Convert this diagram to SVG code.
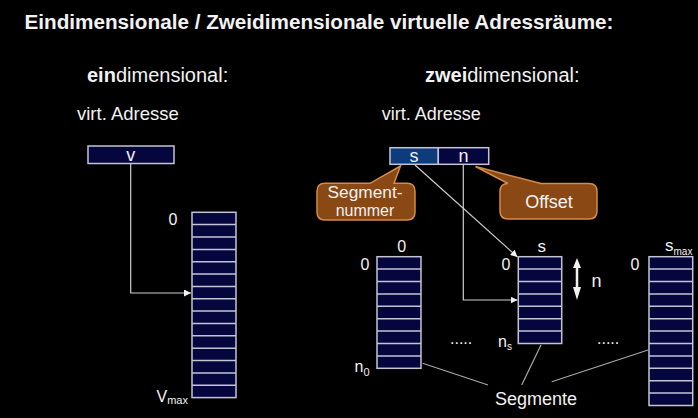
<svg xmlns="http://www.w3.org/2000/svg" width="698" height="418" viewBox="0 0 698 418">
<style>
.t{font-family:"Liberation Sans",Arial,sans-serif;fill:#f2f2f2}
.stk{fill:#06063e;stroke:#c4c4d4;stroke-width:1.5}
.sep{stroke:#c4c4d4;stroke-width:1.5;fill:none}
.con{stroke:#cfcfcf;stroke-width:1.2;fill:none}
.gl{stroke:#a8a8a8;stroke-width:1.2;fill:none}
.call{fill:#8a4814;stroke:#d48a4a;stroke-width:1.5}
</style>
<defs>
<marker id="ah" viewBox="0 0 10 10" refX="10" refY="5" markerWidth="7" markerHeight="7" orient="auto" markerUnits="userSpaceOnUse">
<path d="M0,0 L10,5 L0,10 z" fill="#f0f0f0"/>
</marker>
</defs>
<rect width="698" height="418" fill="#000"/>
<text class="t" x="24.5" y="29.3" font-size="20" font-weight="bold" textLength="589" lengthAdjust="spacingAndGlyphs">Eindimensionale / Zweidimensionale virtuelle Adressräume:</text>
<text class="t" x="87" y="81.7" font-size="20"><tspan font-weight="bold">ein</tspan>dimensional:</text>
<text class="t" x="425" y="81.7" font-size="20"><tspan font-weight="bold">zwei</tspan>dimensional:</text>
<text class="t" x="77" y="120" font-size="18.5">virt. Adresse</text>
<text class="t" x="381.7" y="120" font-size="18">virt. Adresse</text>

<g id="connectors">
<path class="con" d="M130.7,164 V293 H191" marker-end="url(#ah)"/>
<path class="con" d="M415,165 L517.5,257" marker-end="url(#ah)"/>
<path class="con" d="M463.3,165 V300 H517.5" marker-end="url(#ah)"/>
<path class="gl" d="M422.7,363.3 L488,385"/>
<path class="gl" d="M541,345 L521.7,385"/>
<path class="gl" d="M648,350 L551.7,381.7"/>
</g>

<g id="v_addr">
<rect x="88" y="146" width="86" height="17.5" class="stk"/>
<text class="t" x="130.7" y="160.7" font-size="18" text-anchor="middle">v</text>
</g>

<g id="linear_space">
<rect x="192" y="212.3" width="44" height="185.3" class="stk"/>
<path class="sep" d="M192,224.6h44M192,237h44M192,249.4h44M192,261.7h44M192,274.1h44M192,286.4h44M192,298.8h44M192,311.1h44M192,323.5h44M192,335.8h44M192,348.2h44M192,360.5h44M192,372.9h44M192,385.2h44"/>
<text class="t" x="173" y="225" font-size="16" text-anchor="middle">0</text>
<text class="t" x="156.5" y="401.7" font-size="16">V<tspan font-size="11" dy="2.5">max</tspan></text>
</g>

<g id="sn_addr">
<rect x="390" y="147.7" width="48.3" height="16.6" fill="#0c3c7c" stroke="#c4c4d4" stroke-width="1.5"/>
<rect x="438.3" y="147.7" width="50.4" height="16.6" class="stk"/>
<text class="t" x="414" y="162.3" font-size="18" text-anchor="middle">s</text>
<text class="t" x="463.5" y="162.3" font-size="18" text-anchor="middle">n</text>
</g>

<g id="callout_segnum">
<path class="call" d="M325,183.3 H370 L400.5,166 L394,183.3 H407 Q415,183.3 415,191.3 V212 Q415,220 407,220 H325 Q317,220 317,212 V191.3 Q317,183.3 325,183.3 Z"/>
<text class="t" x="327.5" y="197.5" font-size="16" textLength="75" lengthAdjust="spacingAndGlyphs">Segment-</text>
<text class="t" x="365" y="216.2" font-size="16" text-anchor="middle">nummer</text>
</g>

<g id="callout_offset">
<path class="call" d="M508,183.5 L475.5,166.5 L541,183.5 H589 Q597,183.5 597,191.5 V211 Q597,219 589,219 H508 Q500,219 500,211 V191.5 Q500,183.5 508,183.5 Z"/>
<text class="t" x="549" y="208" font-size="18" text-anchor="middle">Offset</text>
</g>

<g id="seg0">
<rect x="377" y="256.7" width="44" height="111.6" class="stk"/>
<path class="sep" d="M377,269.1h44M377,281.5h44M377,293.9h44M377,306.3h44M377,318.7h44M377,331.1h44M377,343.5h44M377,355.9h44"/>
<text class="t" x="401.7" y="251.7" font-size="16" text-anchor="middle">0</text>
<text class="t" x="365" y="270" font-size="16" text-anchor="middle">0</text>
<text class="t" x="354.5" y="371.7" font-size="16">n<tspan font-size="11" dy="4">0</tspan></text>
</g>

<g id="seg_s">
<rect x="518.3" y="256.7" width="43.4" height="86.8" class="stk"/>
<path class="sep" d="M518.3,269.1h43.4M518.3,281.5h43.4M518.3,293.9h43.4M518.3,306.3h43.4M518.3,318.7h43.4M518.3,331.1h43.4"/>
<text class="t" x="541.7" y="251.7" font-size="17" text-anchor="middle">s</text>
<text class="t" x="506" y="270" font-size="16" text-anchor="middle">0</text>
<text class="t" x="498" y="346.7" font-size="16">n<tspan font-size="10" dy="3.5">s</tspan></text>
</g>

<g id="seg_smax">
<rect x="649" y="256.7" width="43.7" height="148.8" class="stk"/>
<path class="sep" d="M649,269.1h43.7M649,281.5h43.7M649,293.9h43.7M649,306.3h43.7M649,318.7h43.7M649,331.1h43.7M649,343.5h43.7M649,355.9h43.7M649,368.3h43.7M649,380.7h43.7M649,393.1h43.7"/>
<text class="t" x="665" y="251" font-size="17">s<tspan font-size="10" dy="3.5">max</tspan></text>
<text class="t" x="635" y="270" font-size="16" text-anchor="middle">0</text>
</g>

<g id="n_range">
<path d="M577,258 L581,268 L573,268 Z M577,300 L581,287 L573,287 Z" fill="#f0f0f0"/>
<path d="M577,267 V288" stroke="#f0f0f0" stroke-width="2.5"/>
<text class="t" x="591.5" y="286.7" font-size="18">n</text>
</g>

<text class="t" x="450" y="344" font-size="16" fill="#cfcfcf">.....</text>
<text class="t" x="597" y="344" font-size="16" fill="#cfcfcf">.....</text>
<text class="t" x="495" y="405" font-size="18">Segmente</text>
</svg>
